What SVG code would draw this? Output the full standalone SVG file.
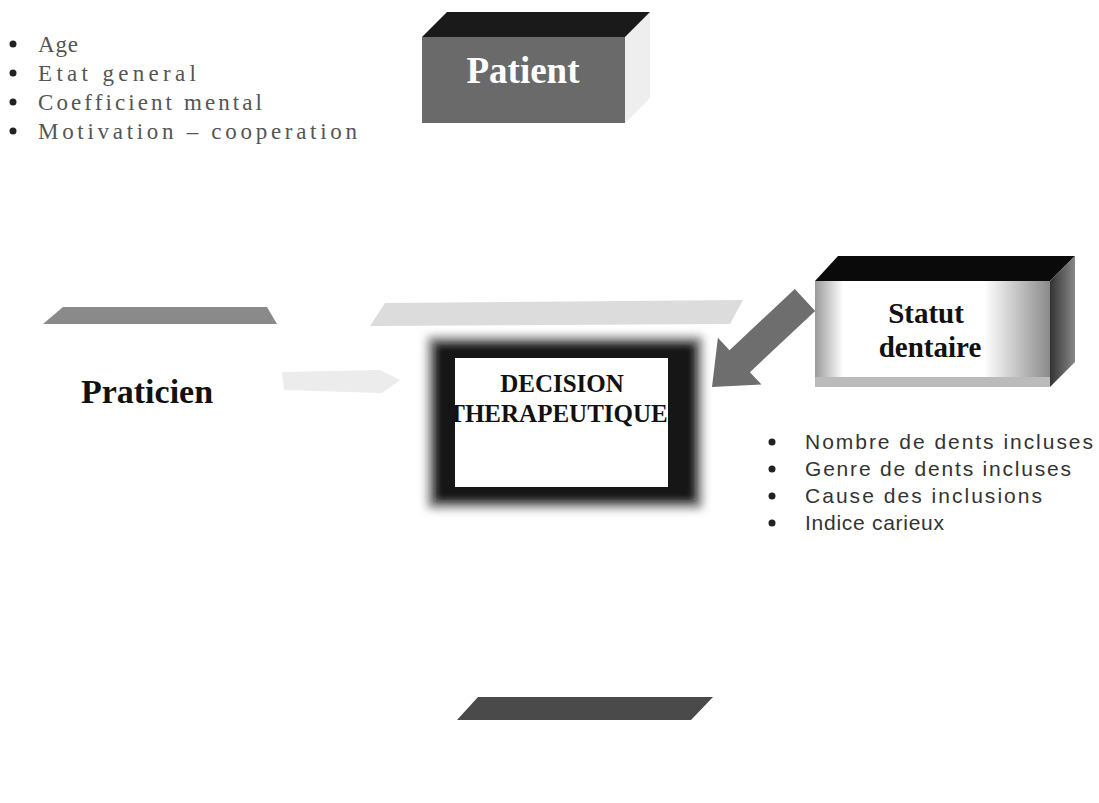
<svg xmlns="http://www.w3.org/2000/svg" width="1099" height="803" viewBox="0 0 1099 803">
<style>
.lst{font-family:"Liberation Serif",serif;font-size:23px;fill:#555}
.rl{font-family:"Liberation Sans",sans-serif;font-size:21px;fill:#333}
.ttl{font-family:"Liberation Serif",serif;font-weight:bold}
.dot{fill:#222}
</style>
<defs>
<filter id="blur" x="-10%" y="-10%" width="120%" height="120%"><feGaussianBlur stdDeviation="3"/></filter>
<filter id="blur2" x="-10%" y="-10%" width="120%" height="120%"><feGaussianBlur stdDeviation="5"/></filter>
<linearGradient id="sfront" x1="0" y1="0" x2="1" y2="0">
<stop offset="0" stop-color="#9a9a9a"/><stop offset="0.12" stop-color="#fff"/><stop offset="0.72" stop-color="#fff"/><stop offset="1" stop-color="#8a8a8a"/>
</linearGradient>
<linearGradient id="sright" x1="0" y1="0" x2="1" y2="0">
<stop offset="0" stop-color="#333"/><stop offset="1" stop-color="#888"/>
</linearGradient>
</defs>
<rect width="1099" height="803" fill="#fff"/>

<g id="patient-list">
<circle class="dot" cx="13" cy="44" r="3.5"/><text class="lst" x="38" y="52" textLength="40" lengthAdjust="spacing">Age</text>
<circle class="dot" cx="13" cy="73" r="3.5"/><text class="lst" x="38" y="81" textLength="158" lengthAdjust="spacing">Etat general</text>
<circle class="dot" cx="13" cy="102" r="3.5"/><text class="lst" x="38" y="110" textLength="224" lengthAdjust="spacing">Coefficient mental</text>
<circle class="dot" cx="13" cy="131" r="3.5"/><text class="lst" x="38" y="139" textLength="319" lengthAdjust="spacing">Motivation – cooperation</text>
</g>

<g id="patient">
<polygon points="625,37 650,12 650,98 625,123" fill="#eeeeee"/>
<polygon points="422,37 447,12 650,12 625,37" fill="#1a1a1a"/>
<rect x="422" y="37" width="203" height="86" fill="#6a6a6a"/>
<text class="ttl" x="523" y="83" font-size="37" fill="#fff" text-anchor="middle">Patient</text>
</g>

<g id="praticien">
<polygon points="63,307 267,307 277,324 43,324" fill="#8a8a8a"/>
<text class="ttl" x="147" y="403" font-size="34" fill="#111" text-anchor="middle">Praticien</text>
</g>

<g id="faint-bar">
<polygon points="385,303 743,300 730,324 370,326" fill="#dcdcdc"/>
</g>

<g id="decision">
<rect x="428" y="337" width="274" height="171" fill="#777" filter="url(#blur2)"/>
<rect x="436" y="345" width="258" height="155" fill="#151515" filter="url(#blur)"/>
<rect x="455" y="358" width="213" height="129" fill="#fff"/>
<text class="ttl" x="562" y="392" font-size="25" fill="#111" text-anchor="middle">DECISION</text>
<text class="ttl" x="558" y="422" font-size="25" fill="#111" text-anchor="middle">THERAPEUTIQUE</text>
</g>

<g id="statut">
<polygon points="815,281 838,256 1075,256 1050,281" fill="#0a0a0a"/>
<polygon points="1050,281 1075,256 1075,362 1050,387" fill="url(#sright)"/>
<rect x="815" y="281" width="235" height="106" fill="url(#sfront)"/>
<rect x="815" y="377" width="235" height="10" fill="#bbb"/>
<text class="ttl" x="926" y="323" font-size="29" fill="#111" text-anchor="middle">Statut</text>
<text class="ttl" x="930" y="357" font-size="29" fill="#111" text-anchor="middle">dentaire</text>
</g>

<g id="statut-list">
<circle class="dot" cx="772" cy="442" r="3.5"/><text class="rl" x="805" y="449" textLength="288" lengthAdjust="spacing">Nombre de dents incluses</text>
<circle class="dot" cx="772" cy="469" r="3.5"/><text class="rl" x="805" y="476" textLength="266" lengthAdjust="spacing">Genre de dents incluses</text>
<circle class="dot" cx="772" cy="496" r="3.5"/><text class="rl" x="805" y="503" textLength="237" lengthAdjust="spacing">Cause des inclusions</text>
<circle class="dot" cx="772" cy="523" r="3.5"/><text class="rl" x="805" y="530" textLength="139" lengthAdjust="spacing">Indice carieux</text>
</g>

<g id="bottom">
<polygon points="478,697 713,697 691,720 457,720" fill="#4a4a4a"/>
</g>

<g id="connectors">
<polygon points="282,372 380,370 400,380 382,393 284,390" fill="#ececec"/>
<polygon points="712,387 717.9,337.8 729.5,350.2 794.8,289 815.2,311 749.9,372.2 761.5,384.6" fill="#6e6e6e"/>
</g>
</svg>
